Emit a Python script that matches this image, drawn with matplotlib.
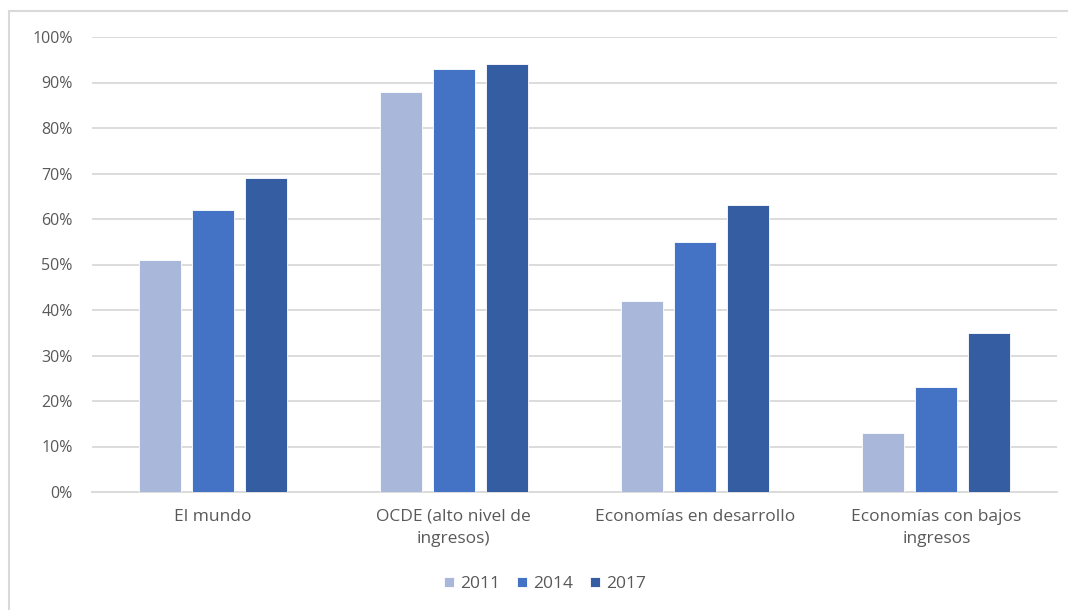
import matplotlib
matplotlib.use("Agg")
import matplotlib.pyplot as plt
from matplotlib.patches import Rectangle
import numpy as np

categories = ["El mundo", "OCDE (alto nivel de\ningresos)",
              "Economías en desarrollo", "Economías con bajos\ningresos"]
years = ["2011", "2014", "2017"]
values_2011 = [51, 88, 42, 13]
values_2014 = [62, 93, 55, 23]
values_2017 = [69, 94, 63, 35]
yticks = [0, 10, 20, 30, 40, 50, 60, 70, 80, 90, 100]
ytick_labels = [f"{v}%" for v in yticks]

colors = ["#A9B7DB", "#4472C4", "#345DA2"]
text_color = "#595959"
grid_color = "#D9D9D9"

plt.rcParams["font.family"] = ["Open Sans", "DejaVu Sans"]

W, H = 1068, 610
fig = plt.figure(figsize=(W / 100, H / 100), dpi=100)
fig.patches.append(Rectangle((9 / W, -0.05), 1.1, 1 - 11 / H + 0.05,
                             transform=fig.transFigure, fill=False,
                             edgecolor="#D9D9D9", linewidth=1.5))

ax = fig.add_axes([92 / W, 1 - 492 / H, (1057 - 92) / W, (492 - 37) / H])

x = np.arange(len(categories))
bar_w = 0.174
step = 0.22
series = [values_2011, values_2014, values_2017]
for i, (vals, col, yr) in enumerate(zip(series, colors, years)):
    ax.bar(x + (i - 1) * step, vals, width=bar_w, color=col,
           edgecolor="white", linewidth=0.6, label=yr, zorder=3)

ax.set_xlim(-0.5, len(categories) - 0.5)
ax.set_ylim(0, 100)
ax.set_yticks(yticks)
ax.set_yticklabels(ytick_labels)
ax.yaxis.grid(True, color=grid_color, linewidth=1.3, zorder=0)
ax.set_axisbelow(True)
ax.set_xticks(x)
ax.set_xticklabels(categories, linespacing=1.55)
for s in ["top", "right", "left"]:
    ax.spines[s].set_visible(False)
ax.spines["bottom"].set_color(grid_color)
ax.spines["bottom"].set_linewidth(1.3)
ax.tick_params(axis="both", length=0, colors=text_color)
ax.tick_params(axis="y", pad=14, labelsize=11.5)
ax.tick_params(axis="x", pad=12, labelsize=12.5)

leg = fig.legend(loc="center", bbox_to_anchor=(545 / W, 1 - 584 / H),
                 ncol=3, frameon=False, fontsize=12.5,
                 handlelength=0.55, handleheight=0.55, handletextpad=0.35,
                 columnspacing=1.0)
for t in leg.get_texts():
    t.set_color(text_color)

fig.savefig("out.png", dpi=100, facecolor="white")
